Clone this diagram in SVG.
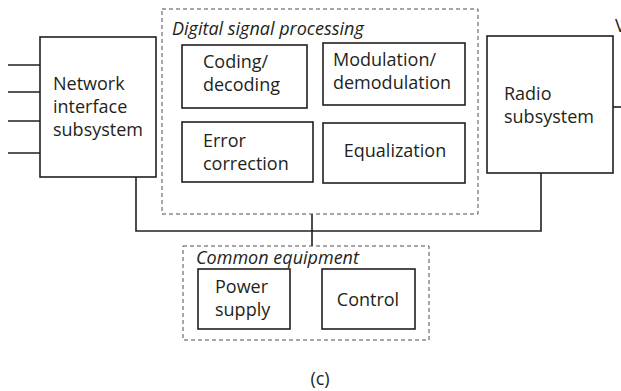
<svg xmlns="http://www.w3.org/2000/svg" width="621" height="391" viewBox="0 0 621 391">
<style>
.box{fill:#fff;stroke:#231f20;stroke-width:1.6}
.grp{fill:none;stroke:#4d4d4d;stroke-width:1;stroke-dasharray:4,3}
.ln{fill:none;stroke:#231f20;stroke-width:1.6}
text{font-family:"Open Sans","Liberation Sans",sans-serif;font-size:18px;fill:#231f20}
.it{font-style:italic;font-size:18px}
</style>
<rect width="621" height="391" fill="#fff"/>
<g id="connectors">
<path class="ln" d="M8 65H40M8 92H40M8 121H40M8 153H40"/>
<path class="ln" d="M136 177V231H541V173"/>
<path class="ln" d="M312 214V246"/>
<path class="ln" d="M613 107H621"/>
</g>
<g id="dsp">
<rect class="grp" x="162" y="9" width="316" height="205"/>
<text class="it" x="172" y="35">Digital signal processing</text>
</g>
<g id="network">
<rect class="box" x="40" y="37" width="116" height="140"/>
<text x="53" y="90">Network</text>
<text x="53" y="113">interface</text>
<text x="53" y="136">subsystem</text>
</g>
<g id="coding">
<rect class="box" x="182" y="45" width="125" height="63"/>
<text x="203" y="68">Coding/</text>
<text x="203" y="91">decoding</text>
</g>
<g id="modulation">
<rect class="box" x="323" y="43" width="142" height="62"/>
<text x="333" y="66">Modulation/</text>
<text x="333" y="89">demodulation</text>
</g>
<g id="error">
<rect class="box" x="182" y="122" width="131" height="60"/>
<text x="203" y="147">Error</text>
<text x="203" y="170">correction</text>
</g>
<g id="equalization">
<rect class="box" x="323" y="123" width="142" height="60"/>
<text x="395" y="157" text-anchor="middle">Equalization</text>
</g>
<g id="radio">
<rect class="box" x="487" y="36" width="126" height="137"/>
<text x="504" y="100">Radio</text>
<text x="504" y="123">subsystem</text>
<text x="615" y="32">V</text>
</g>
<g id="common">
<rect class="grp" x="183" y="246" width="246" height="94"/>
<text class="it" x="196" y="264">Common equipment</text>
</g>
<g id="power">
<rect class="box" x="198" y="269" width="92" height="60"/>
<text x="215" y="293">Power</text>
<text x="215" y="316">supply</text>
</g>
<g id="control">
<rect class="box" x="322" y="269" width="93" height="60"/>
<text x="368" y="306" text-anchor="middle">Control</text>
</g>
<text x="320" y="385" text-anchor="middle">(c)</text>
</svg>
